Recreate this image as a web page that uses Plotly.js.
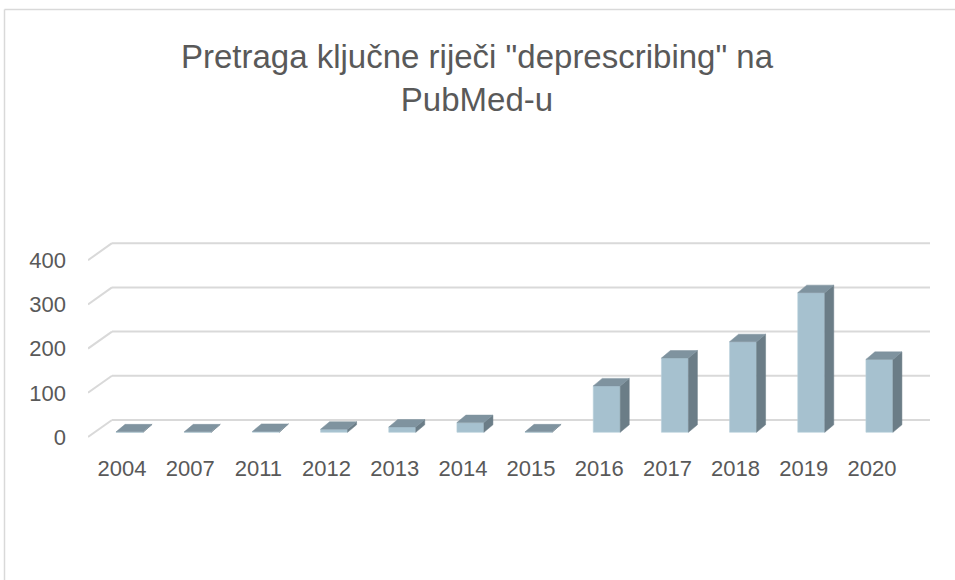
<!DOCTYPE html>
<html>
<head>
<meta charset="utf-8">
<script src="https://cdn.plot.ly/plotly-3.0.1.min.js"></script>
<style>html,body{margin:0;padding:0;background:#fff;}#chart{width:955px;height:580px;}</style>
</head>
<body>
<div id="chart"></div>
<script>
// ---- data ----
const years = ["2004","2007","2011","2012","2013","2014","2015","2016","2017","2018","2019","2020"];
const counts = [1, 1, 2, 7, 12, 22, 1, 105, 168, 205, 316, 165];
const yTicks = [0, 100, 200, 300, 400];

// ---- styling / 3D geometry (in axis units) ----
const FONT = '"Liberation Sans Narrow", "Arial Narrow", "Liberation Sans", Arial, sans-serif';
const TXT = '#595959';
const FRONT = '#a6c1cf', SIDE = '#6b7d87', TOP = '#7f939f', GRID = '#d9d9d9';
const barW = 0.396;     // front face width
const fx = 0.11, fy = 10.6;   // front-face offset from the front plane
const dx = 0.132, dy = 17;    // bar depth
const wallDx = 0.352, wallDy = 38.5; // floor depth to back wall

const idx = years.map((_, i) => i);
const traces = [];

// front faces
traces.push({
  type: 'bar',
  x: idx.map(i => i + fx),
  y: counts,
  base: counts.map(() => fy),
  width: barW,
  marker: {color: FRONT, line: {color: '#b9d0dc', width: 0.6}},
  hoverinfo: 'skip',
  showlegend: false
});

// side and top faces
counts.forEach((v, i) => {
  const xl = i + fx - barW / 2, xr = i + fx + barW / 2;
  const y0 = fy, y1 = fy + v;
  traces.push({
    type: 'scatter', mode: 'lines', fill: 'toself', fillcolor: SIDE,
    line: {color: SIDE, width: 0.5},
    x: [xr, xr + dx, xr + dx, xr, xr],
    y: [y0, y0 + dy, y1 + dy, y1, y0],
    hoverinfo: 'skip', showlegend: false
  });
  traces.push({
    type: 'scatter', mode: 'lines', fill: 'toself', fillcolor: TOP,
    line: {color: TOP, width: 0.5},
    x: [xl, xl + dx, xr + dx, xr, xl],
    y: [y1, y1 + dy, y1 + dy, y1, y1],
    hoverinfo: 'skip', showlegend: false
  });
});

// gridlines (back wall + left floor diagonal)
const xMin = -0.5, xMax = years.length - 0.5 + wallDx;
const shapes = [];
yTicks.forEach(t => {
  shapes.push({type: 'line', xref: 'x', yref: 'y', x0: xMin, y0: t, x1: xMin + wallDx, y1: t + wallDy,
    line: {color: GRID, width: 2}, layer: 'below'});
  shapes.push({type: 'line', xref: 'x', yref: 'y', x0: xMin + wallDx, y0: t + wallDy, x1: xMax, y1: t + wallDy,
    line: {color: GRID, width: 2}, layer: 'below'});
});

// chart-area border (left and top edges)
const L = 88, R = 930, T = 230, B = 450;
const px2x = p => (p - L) / (R - L);
const py2y = p => (B - p) / (B - T);
shapes.push({type: 'line', xref: 'paper', yref: 'paper', x0: px2x(4.5), y0: py2y(9.5), x1: px2x(960), y1: py2y(9.5),
  line: {color: GRID, width: 1.5}});
shapes.push({type: 'line', xref: 'paper', yref: 'paper', x0: px2x(4.5), y0: py2y(9.5), x1: px2x(4.5), y1: py2y(585),
  line: {color: GRID, width: 1.5}});

const layout = {
  width: 955, height: 580,
  margin: {l: L, r: 955 - R, t: T, b: 580 - B, pad: 0},
  paper_bgcolor: '#ffffff', plot_bgcolor: 'rgba(0,0,0,0)',
  font: {family: FONT, color: TXT},
  title: {
    text: 'Pretraga ključne riječi "deprescribing" na<br>PubMed-u',
    font: {family: FONT, size: 33, color: TXT},
    x: 477 / 955, xref: 'container', xanchor: 'center',
    y: 1 - 68 / 580, yref: 'container', yanchor: 'top',
    automargin: false
  },
  showlegend: false,
  bargap: 0,
  xaxis: {
    range: [xMin, xMax],
    tickmode: 'array', tickvals: idx, ticktext: years,
    showgrid: false, zeroline: false, showline: false, ticks: '',
    tickfont: {family: FONT, size: 22, color: TXT},
    ticklabelstandoff: 3,
    fixedrange: true
  },
  yaxis: {
    range: [-(B - 437) / 0.442, (437 - T) / 0.442],
    tickmode: 'array', tickvals: yTicks, ticktext: yTicks.map(String),
    showgrid: false, zeroline: false, showline: false, ticks: '',
    tickfont: {family: FONT, size: 22, color: TXT},
    ticklabelstandoff: 21,
    fixedrange: true
  },
  shapes: shapes
};

Plotly.newPlot('chart', traces, layout, {staticPlot: true, displayModeBar: false});
</script>
</body>
</html>
